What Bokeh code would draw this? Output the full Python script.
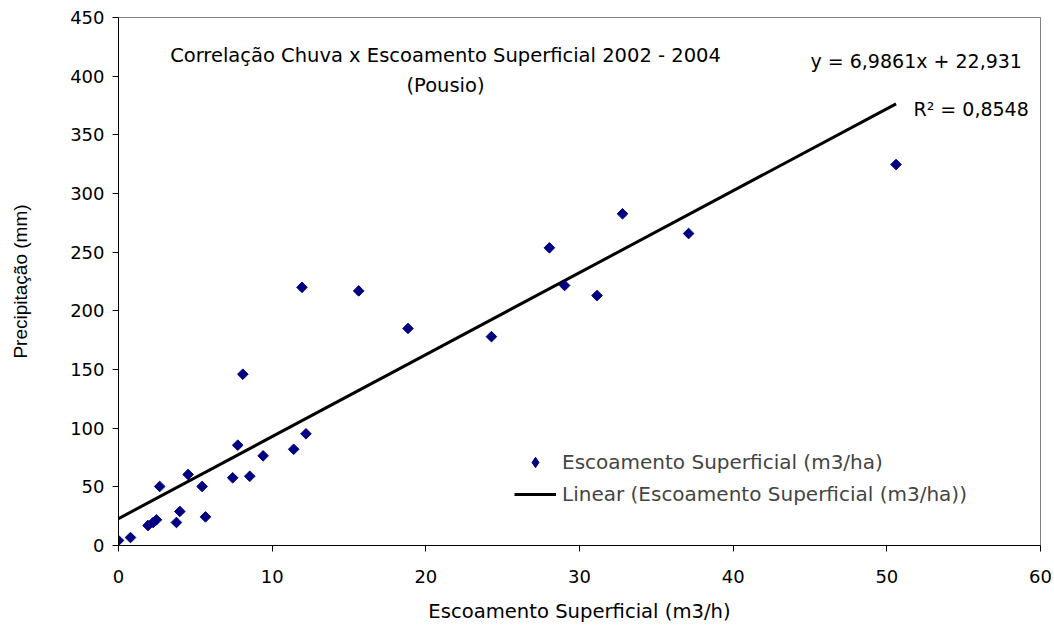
from bokeh.plotting import figure
from bokeh.models import Range1d, Label, Legend, LegendItem, FixedTicker
from bokeh.embed import file_html
from bokeh.resources import INLINE
import math

# ---- data ----
escoamento = [0, 0.78, 1.92, 2.25, 2.47, 2.68, 3.77, 3.99, 4.53, 5.44, 5.66,
              7.43, 7.76, 8.09, 8.54, 9.41, 11.4, 11.94, 12.2, 15.63, 18.84,
              24.27, 28.04, 29.03, 31.14, 32.8, 37.1, 50.6]
precipitacao = [4.3, 6.8, 17, 19.6, 21.9, 50.3, 19.6, 29, 60.5, 50.3, 24.4,
                57.7, 85.5, 146, 59, 76.4, 82, 220, 95.2, 217, 185,
                178, 253.7, 221.6, 213, 282.7, 265.9, 324.7]
slope = 6.9861
intercept = 22.931
x_ticks = [0, 10, 20, 30, 40, 50, 60]
y_ticks = [0, 50, 100, 150, 200, 250, 300, 350, 400, 450]
title_lines = ["Correlação Chuva x Escoamento Superficial 2002 - 2004", "(Pousio)"]
eq_text = "y = 6,9861x + 22,931"
r2_text = "R² = 0,8548"
series_name = "Escoamento Superficial (m3/ha)"
trend_name = "Linear (Escoamento Superficial (m3/ha))"

FONT = "DejaVu Sans"
NAVY = "#000080"

W, H = 1054, 626
p = figure(width=W, height=H, output_backend="svg", toolbar_location=None,
           x_range=Range1d(0, 60), y_range=Range1d(0, 450),
           min_border_left=118, min_border_right=14, min_border_top=17,
           min_border_bottom=81)
p.grid.visible = False
p.outline_line_color = "#808080"
p.outline_line_width = 1
p.background_fill_color = "white"

for ax, ticks in ((p.xaxis, x_ticks), (p.yaxis, y_ticks)):
    ax.ticker = FixedTicker(ticks=ticks)
    ax.minor_tick_line_color = None
    ax.major_tick_in = 0
    ax.major_tick_out = 6
    ax.axis_line_color = "black"
    ax.major_tick_line_color = "black"
    ax.major_label_text_font = FONT
    ax.major_label_text_font_size = "18px"
    ax.major_label_text_color = "black"
    ax.axis_label_text_font_style = "normal"
    ax.axis_label_text_color = "black"

p.xaxis.axis_label = "Escoamento Superficial (m3/h)"
p.xaxis.axis_label_text_font = FONT
p.xaxis.axis_label_text_font_size = "19.6px"
p.yaxis.axis_label = "Precipitação (mm)"
p.yaxis.axis_label_text_font = "Liberation Sans"
p.yaxis.axis_label_text_font_size = "19px"
p.xaxis.major_label_standoff = 18
p.xaxis.axis_label_standoff = 14
p.yaxis.major_label_standoff = 8
p.yaxis.axis_label_standoff = 36

# trend line
xs = [min(escoamento), max(escoamento)]
ys = [slope * v + intercept for v in xs]
ln = p.line(xs, ys, line_color="black", line_width=3)
# small diamond under the points gives the legend its diamond symbol
leg_marker = p.scatter(escoamento, precipitacao, marker="diamond", size=8,
                       fill_color=NAVY, line_color=NAVY)
sc = p.scatter(escoamento, precipitacao, marker="square", size=7.5,
               angle=math.pi / 4, fill_color=NAVY, line_color=NAVY)

legend = Legend(items=[LegendItem(label=series_name, renderers=[leg_marker]),
                       LegendItem(label=trend_name, renderers=[ln])],
                location=(396, 38), padding=0, margin=0, spacing=6,
                glyph_width=42, glyph_height=26, label_height=20,
                label_standoff=6, border_line_alpha=0, background_fill_alpha=0,
                label_text_font=FONT, label_text_font_size="20px")
p.add_layout(legend)

# texts inside the plot area
def add_text(x, y, txt, size, align):
    p.add_layout(Label(x=x, y=y, x_units="screen", y_units="screen",
                       text=txt, text_align=align, text_baseline="middle",
                       text_font=FONT, text_font_size=size, text_color="black"))

add_text(327, 490, title_lines[0], "19.5px", "center")
add_text(327, 460, title_lines[1], "19.5px", "center")
add_text(692, 485, eq_text, "19px", "left")
add_text(795, 437, r2_text, "19px", "left")

open("out.html", "w").write(file_html(p, INLINE))
